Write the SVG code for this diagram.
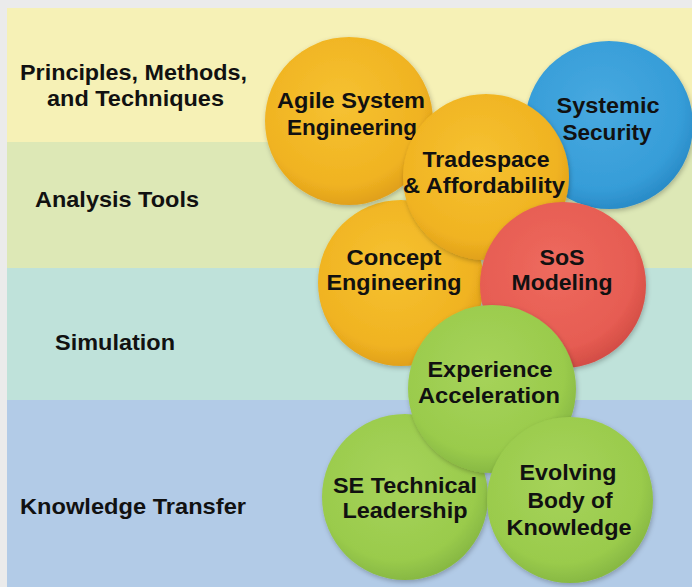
<svg xmlns="http://www.w3.org/2000/svg" width="692" height="587" viewBox="0 0 692 587">
  <defs>
    <radialGradient id="gYellow" cx="0.45" cy="0.4" r="0.6">
      <stop offset="0" stop-color="#f6c232"/>
      <stop offset="0.8" stop-color="#f0b321"/>
      <stop offset="1" stop-color="#e1a11c"/>
    </radialGradient>
    <radialGradient id="gBlue" cx="0.45" cy="0.4" r="0.6">
      <stop offset="0" stop-color="#48a9e0"/>
      <stop offset="0.8" stop-color="#369dd8"/>
      <stop offset="1" stop-color="#2a8cc8"/>
    </radialGradient>
    <radialGradient id="gRed" cx="0.45" cy="0.4" r="0.6">
      <stop offset="0" stop-color="#ee6a5e"/>
      <stop offset="0.8" stop-color="#e65c52"/>
      <stop offset="1" stop-color="#d44e46"/>
    </radialGradient>
    <radialGradient id="gGreen" cx="0.45" cy="0.4" r="0.6">
      <stop offset="0" stop-color="#a6d35a"/>
      <stop offset="0.8" stop-color="#9acb4c"/>
      <stop offset="1" stop-color="#88b943"/>
    </radialGradient>
    <filter id="soft" x="-20%" y="-20%" width="140%" height="140%">
      <feGaussianBlur in="SourceAlpha" stdDeviation="2.5"/>
      <feOffset dx="1" dy="2" result="b"/>
      <feFlood flood-color="#000" flood-opacity="0.25"/>
      <feComposite in2="b" operator="in" result="sh"/>
      <feMerge>
        <feMergeNode in="sh"/>
        <feMergeNode in="SourceGraphic"/>
      </feMerge>
    </filter>
  </defs>
  <style>
    .lbl { font-family: "Liberation Sans", Arial, sans-serif; font-weight: bold; font-size: 21.5px; fill: #111; }
    .txt { font-family: "Liberation Sans", Arial, sans-serif; font-weight: bold; font-size: 21.5px; fill: #111; text-anchor: middle; }
    .node circle { filter: url(#soft); }
  </style>

  <!-- page margin -->
  <rect x="0" y="0" width="692" height="587" fill="#ebebeb"/>

  <!-- horizontal bands -->
  <g id="bands">
    <rect x="7" y="8" width="685" height="134" fill="#f6f1b6"/>
    <rect x="7" y="142" width="685" height="126" fill="#dde8b6"/>
    <rect x="7" y="268" width="685" height="132" fill="#bfe2da"/>
    <rect x="7" y="400" width="685" height="187" fill="#b2cbe7"/>
  </g>

  <!-- band labels -->
  <g id="band-labels" lengthAdjust="spacingAndGlyphs">
    <text class="lbl" x="133.5" y="80" text-anchor="middle" textLength="227" lengthAdjust="spacingAndGlyphs">Principles, Methods,</text>
    <text class="lbl" x="135.5" y="106" text-anchor="middle" textLength="177" lengthAdjust="spacingAndGlyphs">and Techniques</text>
    <text class="lbl" x="35" y="207" textLength="164" lengthAdjust="spacingAndGlyphs">Analysis Tools</text>
    <text class="lbl" x="55" y="350" textLength="120" lengthAdjust="spacingAndGlyphs">Simulation</text>
    <text class="lbl" x="20" y="514" textLength="226" lengthAdjust="spacingAndGlyphs">Knowledge Transfer</text>
  </g>

  <g id="connectors"/>

  <!-- circles, back to front -->
  <g id="systemic-security" class="node">
    <circle cx="609" cy="125" r="84" fill="url(#gBlue)"/>
    <text class="txt" x="608" y="113" textLength="103" lengthAdjust="spacingAndGlyphs">Systemic</text>
    <text class="txt" x="607" y="140" textLength="89" lengthAdjust="spacingAndGlyphs">Security</text>
  </g>
  <g id="concept-engineering" class="node">
    <circle cx="401" cy="283" r="83" fill="url(#gYellow)"/>
    <text class="txt" x="394" y="265" textLength="95" lengthAdjust="spacingAndGlyphs">Concept</text>
    <text class="txt" x="394" y="290" textLength="135" lengthAdjust="spacingAndGlyphs">Engineering</text>
  </g>
  <g id="agile-system-engineering" class="node">
    <circle cx="349" cy="121" r="84" fill="url(#gYellow)"/>
    <text class="txt" x="351" y="108" textLength="148" lengthAdjust="spacingAndGlyphs">Agile System</text>
    <text class="txt" x="352" y="135" textLength="130" lengthAdjust="spacingAndGlyphs">Engineering</text>
  </g>
  <g id="tradespace-affordability" class="node">
    <circle cx="486" cy="177" r="83" fill="url(#gYellow)"/>
    <text class="txt" x="486" y="167" textLength="127" lengthAdjust="spacingAndGlyphs">Tradespace</text>
    <text class="txt" x="484" y="193" textLength="162" lengthAdjust="spacingAndGlyphs">&amp; Affordability</text>
  </g>
  <g id="sos-modeling" class="node">
    <circle cx="563" cy="285" r="83" fill="url(#gRed)"/>
    <text class="txt" x="562" y="265" textLength="45" lengthAdjust="spacingAndGlyphs">SoS</text>
    <text class="txt" x="562" y="290" textLength="101" lengthAdjust="spacingAndGlyphs">Modeling</text>
  </g>
  <g id="se-technical-leadership" class="node">
    <circle cx="405" cy="497" r="83" fill="url(#gGreen)"/>
    <text class="txt" x="405" y="493" textLength="144" lengthAdjust="spacingAndGlyphs">SE Technical</text>
    <text class="txt" x="405" y="518" textLength="125" lengthAdjust="spacingAndGlyphs">Leadership</text>
  </g>
  <g id="experience-acceleration" class="node">
    <circle cx="492" cy="389" r="84" fill="url(#gGreen)"/>
    <text class="txt" x="490" y="377" textLength="125" lengthAdjust="spacingAndGlyphs">Experience</text>
    <text class="txt" x="489" y="403" textLength="142" lengthAdjust="spacingAndGlyphs">Acceleration</text>
  </g>
  <g id="evolving-body-of-knowledge" class="node">
    <circle cx="570" cy="500" r="83" fill="url(#gGreen)"/>
    <text class="txt" x="568" y="480" textLength="97" lengthAdjust="spacingAndGlyphs">Evolving</text>
    <text class="txt" x="570" y="508" textLength="85" lengthAdjust="spacingAndGlyphs">Body of</text>
    <text class="txt" x="569" y="535" textLength="125" lengthAdjust="spacingAndGlyphs">Knowledge</text>
  </g>
</svg>
